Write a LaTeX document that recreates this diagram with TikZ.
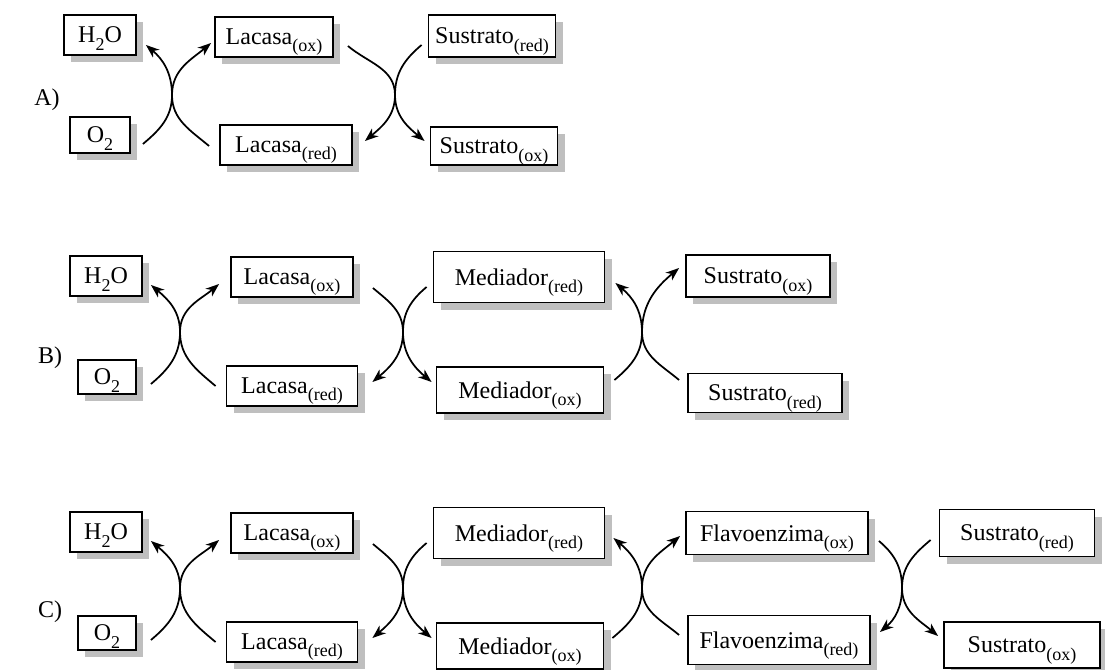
\documentclass[tikz,border=0pt]{standalone}
\usepackage{fontspec}
\setmainfont{Liberation Serif}
\usetikzlibrary{arrows.meta}
\usetikzlibrary{shadows}
\tikzset{>={Stealth[length=10pt, width=7.5pt, inset=3pt]}}
\tikzstyle{box} = [rectangle, draw = black, line width = 1.4pt, fill = white, inner sep = 0pt, font = \fontsize{18}{21}\selectfont, drop shadow = {shadow xshift = 5.25pt, shadow yshift = -5.25pt, opacity = 1, fill = black!25}]
\tikzstyle{react} = [->, line width = 1.3pt]
\tikzstyle{lbl} = [draw = none, inner sep = 1, font = \fontsize{18}{21}\selectfont]
\tikzset{bsize/.style 2 args = {minimum width = #1*0.75pt, minimum height = #2*0.75pt}}
\newcommand{\sbs}[1]{\raisebox{-0.3em}[0pt][0pt]{\fontsize{13.5}{15}\selectfont #1}}

\begin{document}
\begin{tikzpicture}[x = 0.75pt, y = 0.75pt]
\useasboundingbox (0, 0) rectangle (1105, -670);

% A)
\node [lbl] (labA) at (47, -100) {A)};
\node [box, bsize = {72}{40}] (H2OA) at (100, -35) {H\sbs{2}O};
\node [box, bsize = {60}{36}] (O2A) at (100, -135) {O\sbs{2}};
\node [box, bsize = {118}{40}] (LoxA) at (274, -37) {Lacasa\sbs{(ox)}};
\node [box, bsize = {132}{40}] (LredA) at (286, -145) {Lacasa\sbs{(red)}};
\node [box, bsize = {127}{42}] (SredA) at (492, -36) {Sustrato\sbs{(red)}};
\node [box, bsize = {127}{38}] (SoxA) at (494, -146) {Sustrato\sbs{(ox)}};
\coordinate (xA1) at (172, -95);
\coordinate (xA2) at (395, -95);
\draw [react] ([shift = {(12, -9)}]O2A.east) to [out = 40, in = -90] (xA1) to [out = 90, in = -40] ([shift = {(9, -10)}]H2OA.east);
\draw [react] ([shift = {(-10, -1)}]LredA.west) to [out = 140, in = -90] (xA1) to [out = 90, in = -140] ([shift = {(-3, -6)}]LoxA.west);
\draw [react] ([shift = {(14, -9)}]LoxA.east) to [out = -40, in = 90] (xA2) to [out = -90, in = 140] ([shift = {(-5, 5)}]SoxA.west);
\draw [react] ([shift = {(-6, -9)}]SredA.west) to [out = -140, in = 90] (xA2) to [out = -90, in = 40] ([shift = {(12, 4)}]LredA.east);

% B)
\node [lbl] (labB) at (50, -358) {B)};
\node [box, bsize = {72}{40}] (H2OB) at (106, -276) {H\sbs{2}O};
\node [box, bsize = {58}{34}] (O2B) at (107, -377) {O\sbs{2}};
\node [box, bsize = {122}{40}] (LoxB) at (292, -277) {Lacasa\sbs{(ox)}};
\node [box, bsize = {131}{40}] (LredB) at (292, -386) {Lacasa\sbs{(red)}};
\node [box, bsize = {171}{51}] (MredB) at (519, -277) {Mediador\sbs{(red)}};
\node [box, bsize = {167}{46}] (MoxB) at (520, -390) {Mediador\sbs{(ox)}};
\node [box, bsize = {144}{42}] (SoxB) at (758, -276) {Sustrato\sbs{(ox)}};
\node [box, bsize = {154}{39}] (SredB) at (765, -393) {Sustrato\sbs{(red)}};
\coordinate (xB1) at (180, -332);
\coordinate (xB2) at (403, -332);
\coordinate (xB3) at (642, -332);
\draw [react] ([shift = {(14, -7)}]O2B.east) to [out = 40, in = -90] (xB1) to [out = 90, in = -40] ([shift = {(8, -9)}]H2OB.east);
\draw [react] ([shift = {(-10, 0)}]LredB.west) to [out = 140, in = -90] (xB1) to [out = 90, in = -140] ([shift = {(-11, -7)}]LoxB.west);
\draw [react] ([shift = {(19, -11)}]LoxB.east) to [out = -40, in = 90] (xB2) to [out = -90, in = 140] ([shift = {(-4, 8)}]MoxB.west);
\draw [react] ([shift = {(-6, -10)}]MredB.west) to [out = -140, in = 90] (xB2) to [out = -90, in = 40] ([shift = {(14, 4)}]LredB.east);
\draw [react] ([shift = {(10, 10)}]MoxB.east) to [out = 40, in = -90] (xB3) to [out = 90, in = -40] ([shift = {(10, -6)}]MredB.east);
\draw [react] ([shift = {(-8, 13)}]SredB.west) to [out = 140, in = -90] (xB3) to [out = 90, in = -140] ([shift = {(-6, 8)}]SoxB.west);

% C)
\node [lbl] (labC) at (50, -612) {C)};
\node [box, bsize = {72}{40}] (H2OC) at (106, -532) {H\sbs{2}O};
\node [box, bsize = {58}{34}] (O2C) at (107, -633) {O\sbs{2}};
\node [box, bsize = {122}{40}] (LoxC) at (292, -533) {Lacasa\sbs{(ox)}};
\node [box, bsize = {131}{40}] (LredC) at (292, -642) {Lacasa\sbs{(red)}};
\node [box, bsize = {171}{51}] (MredC) at (519, -533) {Mediador\sbs{(red)}};
\node [box, bsize = {167}{46}] (MoxC) at (520, -646) {Mediador\sbs{(ox)}};
\node [box, bsize = {182}{43}] (FoxC) at (777, -533) {Flavoenzima\sbs{(ox)}};
\node [box, bsize = {182}{49}] (FredC) at (779, -640) {Flavoenzima\sbs{(red)}};
\node [box, bsize = {155}{47}] (SredC) at (1017, -533) {Sustrato\sbs{(red)}};
\node [box, bsize = {156}{46}] (SoxC) at (1022, -645) {Sustrato\sbs{(ox)}};
\coordinate (xC1) at (180, -588);
\coordinate (xC2) at (403, -588);
\coordinate (xC3) at (642, -588);
\coordinate (xC4) at (902, -588);
\draw [react] ([shift = {(14, -7)}]O2C.east) to [out = 40, in = -90] (xC1) to [out = 90, in = -40] ([shift = {(8, -9)}]H2OC.east);
\draw [react] ([shift = {(-10, 0)}]LredC.west) to [out = 140, in = -90] (xC1) to [out = 90, in = -140] ([shift = {(-11, -7)}]LoxC.west);
\draw [react] ([shift = {(19, -11)}]LoxC.east) to [out = -40, in = 90] (xC2) to [out = -90, in = 140] ([shift = {(-4, 8)}]MoxC.west);
\draw [react] ([shift = {(-6, -10)}]MredC.west) to [out = -140, in = 90] (xC2) to [out = -90, in = 40] ([shift = {(14, 4)}]LredC.east);
\draw [react] ([shift = {(8, 8)}]MoxC.east) to [out = 40, in = -90] (xC3) to [out = 90, in = -40] ([shift = {(8, -5)}]MredC.east);
\draw [react] ([shift = {(-8, 5)}]FredC.west) to [out = 140, in = -90] (xC3) to [out = 90, in = -140] ([shift = {(-5, -3)}]FoxC.west);
\draw [react] ([shift = {(10, -8)}]FoxC.east) to [out = -40, in = 90] (xC4) to [out = -90, in = 140] ([shift = {(-5, 9)}]SoxC.west);
\draw [react] ([shift = {(-8, -7)}]SredC.west) to [out = -140, in = 90] (xC4) to [out = -90, in = 40] ([shift = {(9, 8)}]FredC.east);
\end{tikzpicture}
\end{document}
